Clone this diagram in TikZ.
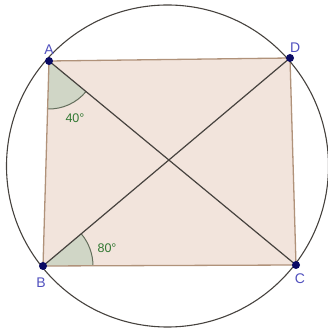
\documentclass[tikz,border=0pt]{standalone}
\usepackage{fontspec}
\setmainfont{Liberation Sans}
\usetikzlibrary{positioning,angles,quotes}
\definecolor{QuadFill}{RGB}{242,228,220}
\definecolor{QuadEdge}{RGB}{176,146,122}
\definecolor{DiagLine}{RGB}{70,66,62}
\definecolor{PointBlue}{RGB}{10,10,100}
\definecolor{LabelBlue}{RGB}{80,80,190}
\definecolor{AngleFill}{RGB}{208,214,198}
\definecolor{AngleEdge}{RGB}{100,110,92}
\definecolor{AngleText}{RGB}{50,120,50}
\tikzset{
  vertex/.style={circle,fill=PointBlue,inner sep=0pt,minimum size=8pt},
  vlabel/.style={text=LabelBlue,inner sep=0pt,font=\fontsize{14}{14}\selectfont},
  quadedge/.style={draw=QuadEdge,line width=1.3pt},
  diag/.style={draw=DiagLine,line width=1.2pt},
  anglemark/.style={draw=AngleEdge,fill=AngleFill,line width=1pt},
  anglelabel/.style={text=AngleText,font=\fontsize{12.5}{12.5}\selectfont}
}
\begin{document}
\begin{tikzpicture}[x=1pt,y=1pt]
  \useasboundingbox (0,0) rectangle (327,332);
  % points of the quadrilateral
  \coordinate (A) at (49,271);
  \coordinate (D) at (290,274);
  \coordinate (B) at (43,66);
  \coordinate (C) at (296,67);
  \coordinate (O) at (167.5,166);
  % filled quadrilateral
  \fill[QuadFill] (A) -- (D) -- (C) -- (B) -- cycle;
  % angle marks
  \pic[anglemark,angle radius=48pt] {angle=B--A--C};
  \pic[anglemark,angle radius=50pt] {angle=C--B--D};
  \draw[quadedge] (A) -- (D) -- (C) -- (B) -- cycle;
  \draw[diag] (A) -- (C);
  \draw[diag] (B) -- (D);
  % circumcircle
  \draw[DiagLine,line width=1.1pt] (O) circle (161);
  % vertices
  \foreach \p in {A,B,C,D}
    \node[vertex] (v\p) at (\p) {};
  \node[vlabel,above=2pt of vA] (lA) {A};
  \node[vlabel,above right=2pt and -3pt of vD] (lD) {D};
  \node[vlabel,below=7pt of vB,xshift=-2pt] (lB) {B};
  \node[vlabel,below=4pt of vC,xshift=4pt] (lC) {C};
  \node[anglelabel] (a40) at (75,214) {40°};
  \node[anglelabel] (a80) at (107,84) {80°};
\end{tikzpicture}
\end{document}
